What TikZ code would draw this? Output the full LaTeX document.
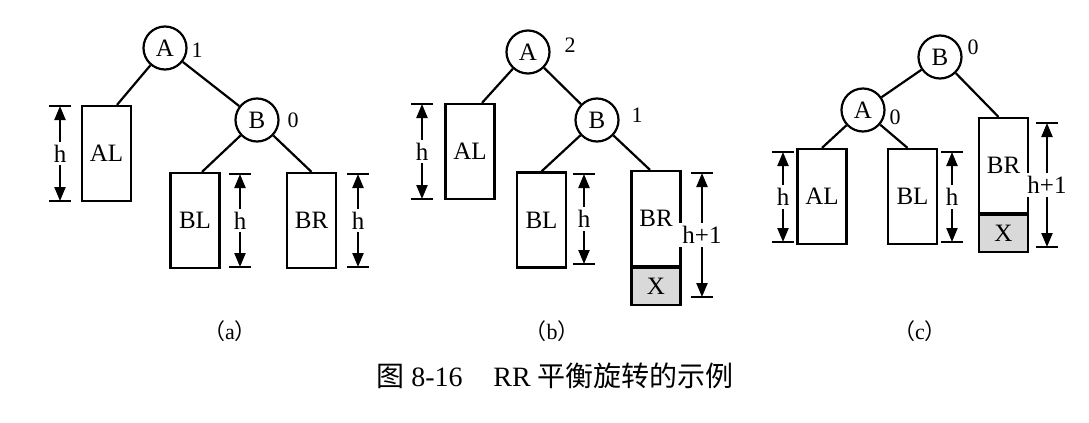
\documentclass[tikz,border=0pt]{standalone}
\usepackage{fontspec}
\setmainfont{Liberation Serif}
\newfontfamily\cjk{Noto Sans CJK SC}
\usetikzlibrary{arrows.meta,positioning}

\tikzset{
  vtx/.style={circle,draw,minimum size=21.5pt,inner sep=0pt},
  sub/.style={draw,minimum width=24.5pt,minimum height=47.5pt,inner sep=0pt},
  xbox/.style={draw,fill=gray!30,minimum width=24.5pt,minimum height=18.5pt,inner sep=0pt},
  bf/.style={font=\fontsize{11}{13}\selectfont,inner sep=0pt},
  dim/.style={{Triangle[length=7pt,width=5.5pt]}-{Triangle[length=7pt,width=5.5pt]}},
  hgt/.style={fill=white,inner sep=1.5pt},
}

\begin{document}
\begin{tikzpicture}[x=.5pt,y=-.5pt,line width=1.1pt,font=\fontsize{12.5}{14}\selectfont]
  \useasboundingbox (0,0) rectangle (1089,423);

  % (a)
  \node[vtx] (aA) at (165,48) {A};
  \node[vtx] (aB) at (257,120) {B};
  \node[sub] (aAL) at (106.5,153.5) {AL};
  \node[sub] (aBL) at (195,220.5) {BL};
  \node[sub] (aBR) at (311.5,220.5) {BR};
  \node[bf] (aAf) at (197,50) {1};
  \node[bf] (aBf) at (293,120) {0};
  \draw (aA) -- ([xshift=5.25pt]aAL.north);
  \draw (aA) -- (aB);
  \draw (aB) -- ([xshift=3.5pt]aBL.north);
  \draw (aB) -- (aBR.north);
  \draw[dim] (60,106) -- node[hgt] (ah1) {h} (60,201);
  \draw (49,106) -- (71,106) (49,201) -- (71,201);
  \draw[dim] (240,174) -- node[hgt] (ah2) {h} (240,267);
  \draw (229,174) -- (251,174) (229,267) -- (251,267);
  \draw[dim] (358,174) -- node[hgt] (ah3) {h} (358,267);
  \draw (347,174) -- (369,174) (347,267) -- (369,267);
  \node[bf] (capa) at (230,331) {{\cjk （}a{\cjk ）}};

  % (b)
  \node[vtx] (bA) at (528,52) {A};
  \node[vtx] (bB) at (597,120) {B};
  \node[sub] (bAL) at (470,151.5) {AL};
  \node[sub] (bBL) at (541.5,220) {BL};
  \node[sub] (bBR) at (656,218.5) {BR};
  \node[xbox,below=0pt of bBR] (bX) {X};
  \node[bf] (bAf) at (570,45) {2};
  \node[bf] (bBf) at (637,115) {1};
  \draw (bA) -- ([xshift=6pt]bAL.north);
  \draw (bA) -- (bB);
  \draw (bB) -- (bBL.north);
  \draw (bB) -- ([xshift=-3pt]bBR.north);
  \draw[dim] (422,104) -- node[hgt] (bh1) {h} (422,199);
  \draw (411,104) -- (433,104) (411,199) -- (433,199);
  \draw[dim] (584,174) -- node[hgt] (bh2) {h} (584,264);
  \draw (573,174) -- (595,174) (573,264) -- (595,264);
  \draw[dim] (702,173) -- node[hgt] (bh3) {h+1} (702,297);
  \draw (691,173) -- (713,173) (691,297) -- (713,297);
  \node[bf] (capb) at (552,331) {{\cjk （}b{\cjk ）}};

  % (c)
  \node[vtx] (cB) at (940,57) {B};
  \node[vtx] (cA) at (863,110) {A};
  \node[sub] (cAL) at (822,196.5) {AL};
  \node[sub] (cBL) at (912.5,196.5) {BL};
  \node[sub] (cBR) at (1003.5,165.5) {BR};
  \node[xbox,below=0pt of cBR] (cX) {X};
  \node[bf] (cBf) at (973,47) {0};
  \node[bf] (cAf) at (895,117) {0};
  \draw (cB) -- (cA);
  \draw (cB) -- ([xshift=-2.5pt]cBR.north);
  \draw (cA) -- (cAL.north);
  \draw (cA) -- ([xshift=-2.5pt]cBL.north);
  \draw[dim] (783,152) -- node[hgt] (ch1) {h} (783,242);
  \draw (772,152) -- (794,152) (772,242) -- (794,242);
  \draw[dim] (952,152) -- node[hgt] (ch2) {h} (952,242);
  \draw (941,152) -- (963,152) (941,242) -- (963,242);
  \draw[dim] (1047,123) -- node[hgt] (ch3) {h+1} (1047,247);
  \draw (1036,123) -- (1058,123) (1036,247) -- (1058,247);
  \node[bf] (capc) at (920,331) {{\cjk （}c{\cjk ）}};

  \node[font=\fontsize{14}{16}\selectfont] (cap) at (555,376)
    {{\cjk 图} 8-16\hspace{1.1em}RR {\cjk 平衡旋转的示例}};
\end{tikzpicture}
\end{document}
